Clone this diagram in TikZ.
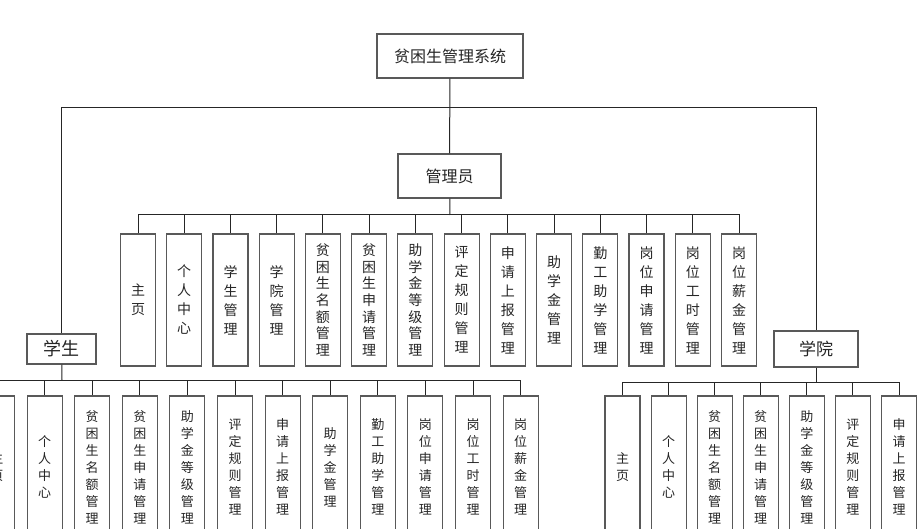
\documentclass[tikz,border=0pt]{standalone}
\usepackage{fontspec}
\setmainfont{Noto Sans CJK SC}
\begin{document}
\begin{tikzpicture}[x=1pt,y=-1pt,
  box/.style={draw=black!65, line width=1.1pt, fill=white, inner sep=0pt, text=black!85},
  leaf/.style={box, minimum width=35pt, minimum height=132pt, align=center, font=\fontsize{14}{19}\selectfont},
  leafdense/.style={leaf, font=\fontsize{14}{16.7}\selectfont},
  subleaf/.style={leaf, minimum height=142pt, font=\fontsize{13}{17}\selectfont},
  link/.style={draw=black!85, line width=1pt}]
\useasboundingbox (0,0) rectangle (921,529);
\clip (0,0) rectangle (921,529);
\fill[white] (0,0) rectangle (921,529);
% top levels
\node[box, minimum width=146pt, minimum height=44pt, font=\fontsize{16}{16}\selectfont] (root) at (450,56) {贫困生管理系统};
\node[box, minimum width=103pt, minimum height=44pt, font=\fontsize{16}{16}\selectfont] (admin) at (449.5,176) {管理员};
\node[box, minimum width=69pt, minimum height=30pt, font=\fontsize{18}{18}\selectfont] (student) at (61.5,349) {学生};
\node[box, minimum width=84pt, minimum height=36pt, font=\fontsize{17}{17}\selectfont] (college) at (816,349) {学院};
\coordinate (mbar) at (450,108);
\coordinate (abar) at (450,215);
\coordinate (sbar) at (62,380);
\coordinate (cbar) at (816,382);
% admin modules
\node[leaf] (a1) at (138,300) {主\\页};
\node[leaf] (a2) at (184.2,300) {个\\人\\中\\心};
\node[leaf] (a3) at (230.5,300) {学\\生\\管\\理};
\node[leaf] (a4) at (276.7,300) {学\\院\\管\\理};
\node[leafdense] (a5) at (322.9,300) {贫\\困\\生\\名\\额\\管\\理};
\node[leafdense] (a6) at (369.2,300) {贫\\困\\生\\申\\请\\管\\理};
\node[leafdense] (a7) at (415.4,300) {助\\学\\金\\等\\级\\管\\理};
\node[leaf] (a8) at (461.6,300) {评\\定\\规\\则\\管\\理};
\node[leaf] (a9) at (507.8,300) {申\\请\\上\\报\\管\\理};
\node[leaf] (a10) at (554.1,300) {助\\学\\金\\管\\理};
\node[leaf] (a11) at (600.3,300) {勤\\工\\助\\学\\管\\理};
\node[leaf] (a12) at (646.5,300) {岗\\位\\申\\请\\管\\理};
\node[leaf] (a13) at (692.8,300) {岗\\位\\工\\时\\管\\理};
\node[leaf] (a14) at (739,300) {岗\\位\\薪\\金\\管\\理};
% student modules
\node[subleaf] (s1) at (-3,467) {主\\页};
\node[subleaf] (s2) at (44.6,467) {个\\人\\中\\心};
\node[subleaf] (s3) at (92.2,467) {贫\\困\\生\\名\\额\\管\\理};
\node[subleaf] (s4) at (139.8,467) {贫\\困\\生\\申\\请\\管\\理};
\node[subleaf] (s5) at (187.4,467) {助\\学\\金\\等\\级\\管\\理};
\node[subleaf] (s6) at (235,467) {评\\定\\规\\则\\管\\理};
\node[subleaf] (s7) at (282.6,467) {申\\请\\上\\报\\管\\理};
\node[subleaf] (s8) at (330.2,467) {助\\学\\金\\管\\理};
\node[subleaf] (s9) at (377.8,467) {勤\\工\\助\\学\\管\\理};
\node[subleaf] (s10) at (425.4,467) {岗\\位\\申\\请\\管\\理};
\node[subleaf] (s11) at (473,467) {岗\\位\\工\\时\\管\\理};
\node[subleaf] (s12) at (520.6,467) {岗\\位\\薪\\金\\管\\理};
% college modules
\node[subleaf] (c1) at (622.5,467) {主\\页};
\node[subleaf] (c2) at (668.6,467) {个\\人\\中\\心};
\node[subleaf] (c3) at (714.7,467) {贫\\困\\生\\名\\额\\管\\理};
\node[subleaf] (c4) at (760.7,467) {贫\\困\\生\\申\\请\\管\\理};
\node[subleaf] (c5) at (806.8,467) {助\\学\\金\\等\\级\\管\\理};
\node[subleaf] (c6) at (852.9,467) {评\\定\\规\\则\\管\\理};
\node[subleaf] (c7) at (899,467) {申\\请\\上\\报\\管\\理};
% connectors
\draw[link] (root) -- (admin);
\draw[link] (mbar) -| (student);
\draw[link] (mbar) -| (college);
\draw[link] (admin) -- (abar);
\draw[link] (abar) -| (a1);
\draw[link] (abar) -| (a2);
\draw[link] (abar) -| (a3);
\draw[link] (abar) -| (a4);
\draw[link] (abar) -| (a5);
\draw[link] (abar) -| (a6);
\draw[link] (abar) -| (a7);
\draw[link] (abar) -| (a8);
\draw[link] (abar) -| (a9);
\draw[link] (abar) -| (a10);
\draw[link] (abar) -| (a11);
\draw[link] (abar) -| (a12);
\draw[link] (abar) -| (a13);
\draw[link] (abar) -| (a14);
\draw[link] (student) -- (sbar);
\draw[link] (sbar) -| (s1);
\draw[link] (sbar) -| (s2);
\draw[link] (sbar) -| (s3);
\draw[link] (sbar) -| (s4);
\draw[link] (sbar) -| (s5);
\draw[link] (sbar) -| (s6);
\draw[link] (sbar) -| (s7);
\draw[link] (sbar) -| (s8);
\draw[link] (sbar) -| (s9);
\draw[link] (sbar) -| (s10);
\draw[link] (sbar) -| (s11);
\draw[link] (sbar) -| (s12);
\draw[link] (college) -- (cbar);
\draw[link] (cbar) -| (c1);
\draw[link] (cbar) -| (c2);
\draw[link] (cbar) -| (c3);
\draw[link] (cbar) -| (c4);
\draw[link] (cbar) -| (c5);
\draw[link] (cbar) -| (c6);
\draw[link] (cbar) -| (c7);
\end{tikzpicture}
\end{document}
